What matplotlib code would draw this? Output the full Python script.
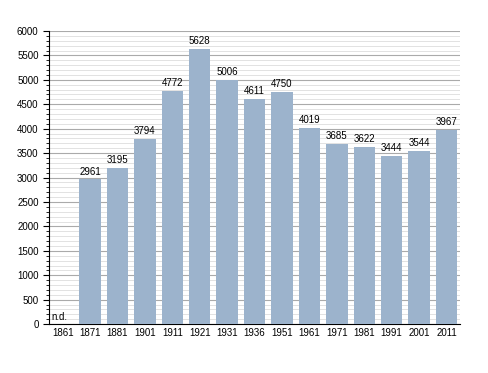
import matplotlib
matplotlib.use("Agg")
import matplotlib.pyplot as plt
import matplotlib.ticker as ticker

plt.rcParams['font.family'] = ['Liberation Sans', 'DejaVu Sans']

years = ["1861", "1871", "1881", "1901", "1911", "1921", "1931", "1936",
         "1951", "1961", "1971", "1981", "1991", "2001", "2011"]
population = [None, 2961, 3195, 3794, 4772, 5628, 5006, 4611,
              4750, 4019, 3685, 3622, 3444, 3544, 3967]

fig = plt.figure(figsize=(4.88, 3.73), dpi=100)
ax = fig.add_axes([0.1004, 0.131, 0.8426, 0.786])

x = list(range(len(years)))
heights = [v if v is not None else 0 for v in population]
ax.bar(x, heights, width=0.78, color="#9cb3cc", zorder=3)

for xi, v in zip(x, population):
    if v is None:
        ax.text(xi - 0.4, 40, "n.d.", fontsize=7, ha="left", va="bottom", zorder=4)
    else:
        ax.text(xi, v + 60, str(v), fontsize=7, ha="center", va="bottom", zorder=4)

ax.set_xlim(-0.5, len(years) - 0.5)
ax.set_ylim(0, 6000)
ax.set_xticks(x)
ax.set_xticklabels(years)
ax.tick_params(axis="x", length=0, labelsize=7, pad=3)

ax.yaxis.set_major_locator(ticker.MultipleLocator(500))
ax.yaxis.set_minor_locator(ticker.MultipleLocator(100))
ax.tick_params(axis="y", which="major", length=4, labelsize=7, direction="out", width=0.8)
ax.tick_params(axis="y", which="minor", length=2, direction="out", width=0.6)

ax.grid(True, axis="y", which="major", color="#aaaaaa", linewidth=0.8, zorder=0)
ax.grid(True, axis="y", which="minor", color="#dddddd", linewidth=0.6, zorder=0)

for side in ["top", "right"]:
    ax.spines[side].set_visible(False)
ax.spines["left"].set_linewidth(0.8)
ax.spines["bottom"].set_linewidth(0.8)

fig.savefig("out.png", dpi=100)
